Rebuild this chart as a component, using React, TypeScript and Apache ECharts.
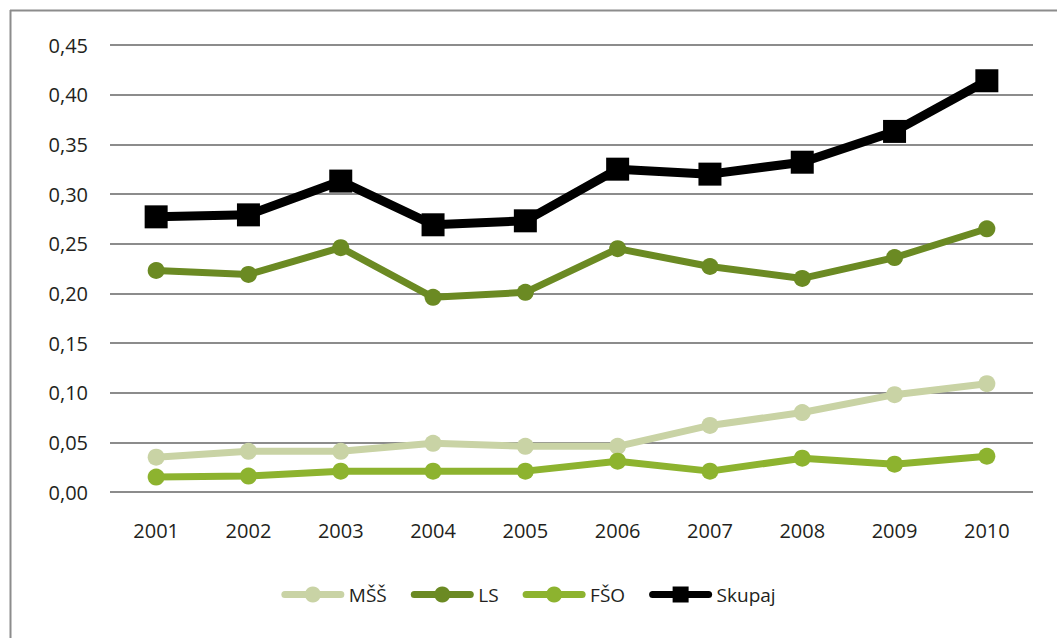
import React, { useEffect, useRef } from "react";
import * as echarts from "echarts";

const years = ["2001", "2002", "2003", "2004", "2005", "2006", "2007", "2008", "2009", "2010"];
const mss = [0.035, 0.041, 0.041, 0.049, 0.046, 0.046, 0.067, 0.08, 0.098, 0.109];
const ls = [0.223, 0.219, 0.246, 0.196, 0.201, 0.245, 0.227, 0.215, 0.236, 0.265];
const fso = [0.015, 0.016, 0.021, 0.021, 0.021, 0.031, 0.021, 0.034, 0.028, 0.036];
const skupaj = [0.277, 0.279, 0.313, 0.269, 0.273, 0.325, 0.32, 0.332, 0.363, 0.414];

const FONT = "'Open Sans', 'Noto Sans', sans-serif";

export default function App() {
  const ref = useRef<HTMLDivElement>(null);
  useEffect(() => {
    if (!ref.current) return;
    const chart = echarts.init(ref.current, undefined, { renderer: "svg" });
    const green = (name: string, data: number[], color: string) => ({
      name,
      type: "line",
      data,
      symbol: "circle",
      symbolSize: 17,
      lineStyle: { color, width: 7 },
      itemStyle: { color },
      z: 2,
    });
    chart.setOption({
      animation: false,
      backgroundColor: "#ffffff",
      textStyle: { fontFamily: FONT },
      grid: { left: 110, right: 24, top: 45, bottom: 146, containLabel: false },
      graphic: [
        { type: "line", shape: { x1: 10, y1: 10.5, x2: 1057, y2: 10.5 }, style: { stroke: "#8c8c8c", lineWidth: 2 } },
        { type: "line", shape: { x1: 10.5, y1: 10, x2: 10.5, y2: 638 }, style: { stroke: "#8c8c8c", lineWidth: 2 } },
      ],
      xAxis: {
        type: "category",
        data: years,
        boundaryGap: true,
        axisLine: { show: false },
        axisTick: { show: false },
        axisLabel: { color: "#231f20", fontSize: 20, margin: 28, fontFamily: FONT },
      },
      yAxis: {
        type: "value",
        min: 0,
        max: 0.45,
        interval: 0.05,
        axisLine: { show: false },
        axisTick: { show: false },
        splitLine: { lineStyle: { color: "#8c8c8c", width: 2 } },
        axisLabel: {
          color: "#231f20",
          fontSize: 20,
          margin: 22,
          fontFamily: FONT,
          formatter: (v: number) => v.toFixed(2).replace(".", ","),
        },
      },
      legend: {
        bottom: 29,
        left: "center",
        itemWidth: 56,
        itemHeight: 20,
        itemGap: 24,
        lineStyle: { width: 7, cap: "round" },
        textStyle: { color: "#231f20", fontSize: 19, fontFamily: FONT, padding: [0, 0, 0, 3] },
        data: ["MŠŠ", "LS", "FŠO", "Skupaj"],
      },
      series: [
        green("MŠŠ", mss, "#c9d3a5"),
        green("LS", ls, "#6b8a23"),
        green("FŠO", fso, "#8db32f"),
        {
          name: "Skupaj",
          type: "line",
          data: skupaj,
          symbol: "rect",
          symbolSize: 23,
          lineStyle: { color: "#000000", width: 9 },
          itemStyle: { color: "#000000" },
          z: 3,
        },
      ],
    });
    return () => chart.dispose();
  }, []);
  return (
    <div
      ref={ref}
      style={{ position: "fixed", left: 0, top: 0, width: 1057, height: 638 }}
    />
  );
}
